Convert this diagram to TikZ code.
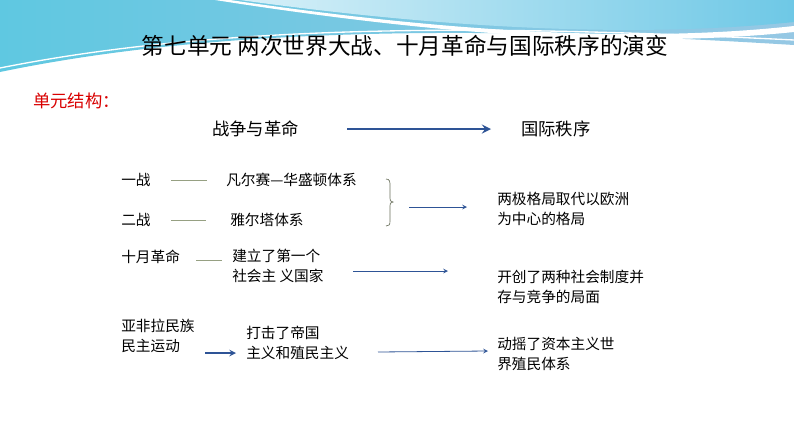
\documentclass[tikz,border=0pt]{standalone}
\usepackage{fontspec}
\setmainfont{Noto Sans CJK SC}
\definecolor{arr}{RGB}{46,84,150}
\definecolor{ln}{RGB}{150,160,130}
\begin{document}
\begin{tikzpicture}[x=0.75pt,y=-0.75pt,
  txt/.style={anchor=west,font=\fontsize{11}{14.5}\selectfont,align=left,inner sep=0},
  thinarr/.style={draw=arr,->,>=stealth,line width=0.6pt},
  dashln/.style={draw=ln,line width=0.6pt}]
\useasboundingbox (0,0) rectangle (794,447);
\fill[white] (0,0) rectangle (794,447);
% banner
\shade[left color={rgb,255:red,95;green,200;blue,225},right color={rgb,255:red,150;green,200;blue,228}]
  (0,0) -- (794,0) -- (794,45) .. controls (550,30) and (250,20) .. (0,72) -- cycle;
\shade[left color={rgb,255:red,215;green,240;blue,248},right color={rgb,255:red,110;green,200;blue,230}]
  (240,0) .. controls (420,25) and (620,40) .. (794,22) -- (794,0) -- cycle;
\fill[white] (230,0) .. controls (420,28) and (620,45) .. (794,26) -- (794,32) .. controls (620,50) and (420,32) .. (215,0) -- cycle;
\draw[white,line width=1pt] (0,68) .. controls (250,18) and (550,28) .. (794,40);
\node[font=\fontsize{17}{20}\selectfont] (title) at (405,46) {第七单元 两次世界大战、十月革命与国际秩序的演变};
\node[txt,text=red!85!black,font=\fontsize{13}{16}\selectfont] (unit) at (33,101) {单元结构：};
\node[txt,font=\fontsize{13}{16}\selectfont] (war) at (212,129) {战争与革命};
\node[txt,font=\fontsize{13}{16}\selectfont] (order) at (521,129) {国际秩序};
\draw[arr,->,>=stealth,line width=2pt] (347,129) -- (491,129);
\node[txt] (w1) at (121,180) {一战};
\node[txt] (w2) at (121,220) {二战};
\node[txt] (r) at (121,257) {十月革命};
\node[txt] (afr) at (121,336) {亚非拉民族\\民主运动};
\node[txt] (vw) at (226,180) {凡尔赛—华盛顿体系};
\node[txt] (ya) at (230,220) {雅尔塔体系};
\node[txt] (soc) at (232,266) {建立了第一个\\社会主 义国家};
\node[txt] (imp) at (246,343) {打击了帝国\\主义和殖民主义};
\node[txt] (bi) at (497,209) {两极格局取代以欧洲\\为中心的格局};
\node[txt] (two) at (497,287) {开创了两种社会制度并\\存与竞争的局面};
\node[txt] (col) at (497,354) {动摇了资本主义世\\界殖民体系};
\draw[dashln] (171,180) -- (207,180);
\draw[dashln] (171,220) -- (206,220);
\draw[dashln] (196,260) -- (222,260);
\draw[ln!70!black,line width=0.5pt] (386,179) .. controls (390,179) and (390,182) .. (390,186) -- (390,198) .. controls (390,201) .. (393,202) .. controls (390,203) .. (390,206) -- (390,221) .. controls (390,225) and (389,226) .. (386,226);
\draw[thinarr] (409,207) -- (467,207);
\draw[thinarr] (353,271) -- (448,271);
\draw[thinarr] (378,352) -- (488,351);
\draw[arr,->,>=stealth,line width=1.2pt] (205,353) -- (236,353);
\end{tikzpicture}
\end{document}
